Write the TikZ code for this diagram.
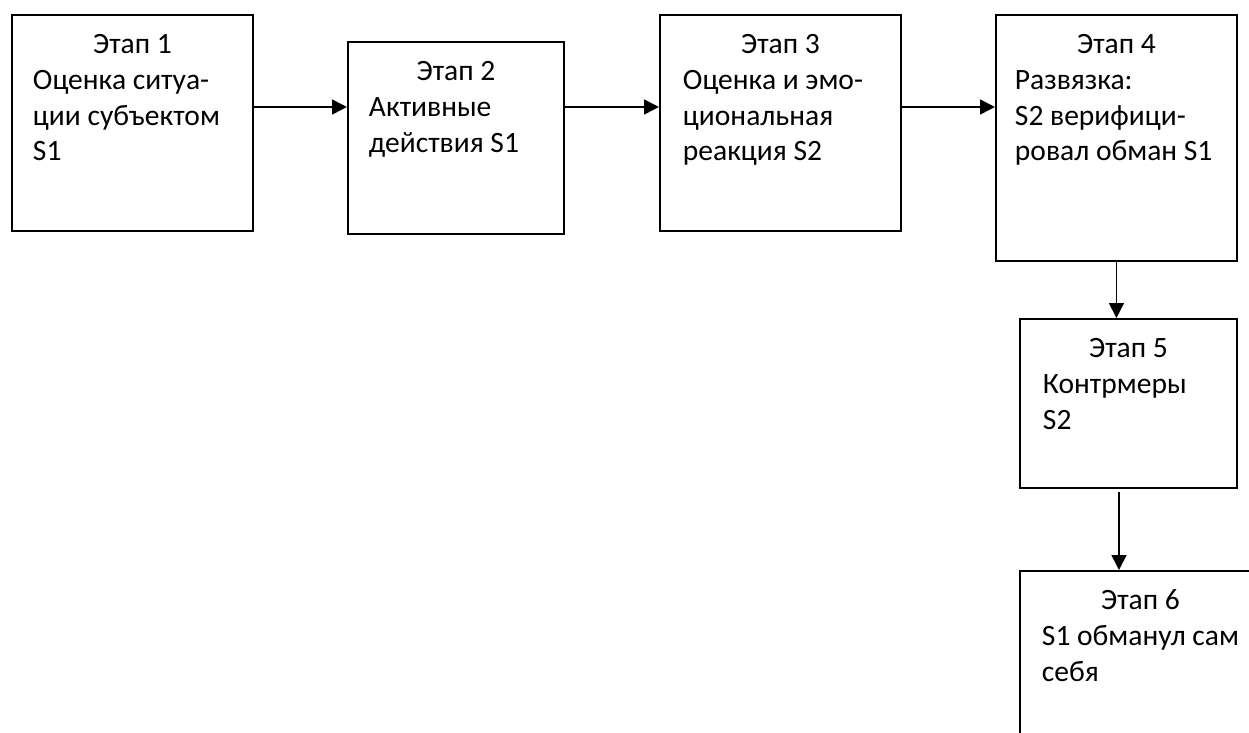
\documentclass[tikz,border=0pt]{standalone}
\usepackage{fontspec}
\setmainfont{Carlito}
\usetikzlibrary{arrows.meta}
\newlength{\px}
\setlength{\px}{0.02cm}
\newcommand{\etapbox}[5]{%
  \parbox[c][#2\px][t]{#1\px}{\centering\rule{0pt}{39\px}Этап #3\par
    \raggedright\leftskip=#4\px #5\par}}

\begin{document}
\begin{tikzpicture}[x=0.02cm, y=-0.02cm,
  etap/.style={draw, line width=1.1pt, inner sep=0pt, anchor=north west,
    font=\fontsize{16.8pt}{20.3pt}\selectfont},
  arr/.style={line width=0.9pt, -{Triangle[length=0.3cm, width=0.3cm]}}]
\useasboundingbox (0,0) rectangle (1249,733);
\clip (0,0) rectangle (1249,733);
\node[etap] (e1) at (11,14)   {\etapbox{241}{216}{1}{21}{Оценка ситуа-\\ции субъектом\\S1}};
\node[etap] (e2) at (347,41)  {\etapbox{216}{192}{2}{21}{Активные\\действия S1}};
\node[etap] (e3) at (659,14)  {\etapbox{241}{216}{3}{23}{Оценка и эмо-\\циональная\\реакция S2}};
\node[etap] (e4) at (995,14)  {\etapbox{241}{246}{4}{19}{Развязка:\\S2 верифици-\\ровал обман S1}};
\node[etap] (e5) at (1019,318) {\etapbox{217}{169}{5}{23}{Контрмеры\\S2}};
\node[etap] (e6) at (1019,570) {\etapbox{241}{216}{6}{22}{S1 обманул сам\\себя}};
\coordinate (row) at (0,107);
\draw[arr] (e1.east |- row) -- (e2.west |- row);
\draw[arr] (e2.east |- row) -- (e3.west |- row);
\draw[arr] (e3.east |- row) -- (e4.west |- row);
\draw[arr] (e4.south) -- (e4.south |- e5.north);
\coordinate (down) at (1119,492);
\draw[arr] (down) -- (down |- e6.north);
\end{tikzpicture}
\end{document}
